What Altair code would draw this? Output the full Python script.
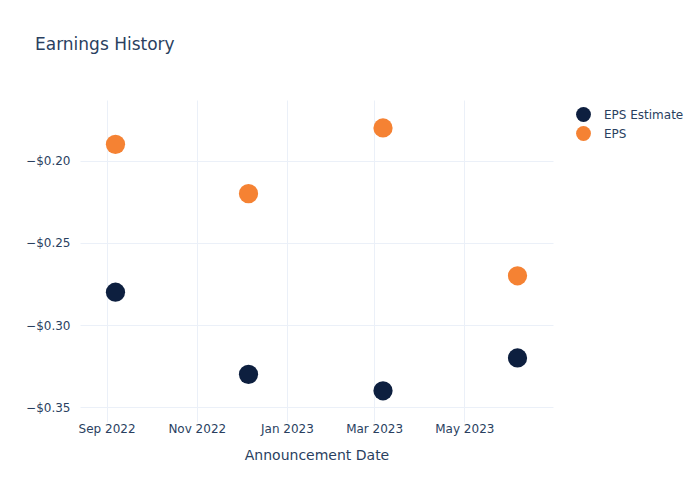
import altair as alt
import pandas as pd

dates = ["2022-09-07", "2022-12-06", "2023-03-07", "2023-06-06"]
eps_estimate = [-0.28, -0.33, -0.34, -0.32]
eps_actual = [-0.19, -0.22, -0.18, -0.27]
series_names = ["EPS Estimate", "EPS"]
colors = ["#0d1f3f", "#f58233"]

rows = []
for d, v in zip(dates, eps_estimate):
    rows.append({"date": d, "value": v, "series": "EPS Estimate", "order": 0})
for d, v in zip(dates, eps_actual):
    rows.append({"date": d, "value": v, "series": "EPS", "order": 1})
df = pd.DataFrame(rows)

font = "DejaVu Sans"
txt = "#2a3f5f"
grid = "#ebf0f8"

xticks = [alt.DateTime(year=2022, month=9, date=1, utc=True),
          alt.DateTime(year=2022, month=11, date=1, utc=True),
          alt.DateTime(year=2023, month=1, date=1, utc=True),
          alt.DateTime(year=2023, month=3, date=1, utc=True),
          alt.DateTime(year=2023, month=5, date=1, utc=True)]

chart = alt.Chart(df).mark_circle(size=370, opacity=1).encode(
    x=alt.X("date:T",
            scale=alt.Scale(type="utc",
                            domain=[alt.DateTime(year=2022, month=8, date=14, utc=True),
                                    alt.DateTime(year=2023, month=6, date=30, utc=True)]),
            axis=alt.Axis(title="Announcement Date", values=xticks, format="%b %Y",
                          labelPadding=1, titlePadding=14)),
    y=alt.Y("value:Q",
            scale=alt.Scale(domain=[-0.359, -0.163], nice=False, zero=False),
            axis=alt.Axis(title=None, values=[-0.35, -0.30, -0.25, -0.20], format="$.2f",
                          labelPadding=10)),
    color=alt.Color("series:N", scale=alt.Scale(domain=series_names, range=colors),
                    legend=alt.Legend(title=None, orient="none", legendX=495, legendY=6,
                                      symbolType="circle", symbolSize=220,
                                      labelFontSize=12, labelColor=txt, labelFont=font,
                                      rowPadding=3, labelOffset=12)),
    order=alt.Order("order:Q"),
).properties(
    width=473, height=322,
    autosize=alt.AutoSizeParams(type="none"),
    padding={"left": 80, "top": 100, "right": 147, "bottom": 78},
    title=alt.TitleParams("Earnings History", anchor="start", frame="group", dx=-45,
                          offset=46, fontSize=17, font=font, color=txt, fontWeight="normal"),
).configure_view(stroke=None).configure_axis(
    domain=False, ticks=False, grid=True, gridColor=grid, gridWidth=1,
    labelFont=font, labelFontSize=12, labelColor=txt,
    titleFont=font, titleFontSize=14, titleColor=txt, titleFontWeight="normal",
)

chart.save("out.html", embed_options={"renderer": "svg", "actions": False})
